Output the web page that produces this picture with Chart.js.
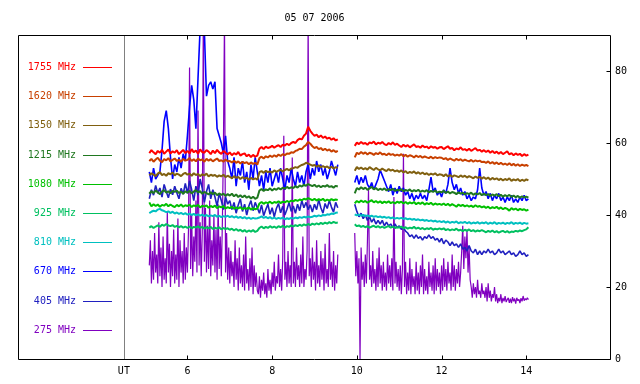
<!DOCTYPE html>
<html><head><meta charset="utf-8">
<script src="https://cdn.jsdelivr.net/npm/chart.js@4"></script>
<style>html,body{margin:0;padding:0;background:#fff;}canvas{display:block;}</style>
</head><body>
<canvas id="c" width="640" height="384"></canvas>
<script>
const chartTitle = '05 07 2006';
const utHour = 4.5;
const xTickValues = [4.5, 6, 8, 10, 12, 14];
const xTickLabels = ['UT', '6', '8', '10', '12', '14'];
const yTickValues = [0, 20, 40, 60, 80];

const hours = [
5.10,5.15,5.20,5.25,5.30,5.35,5.40,5.45,5.50,5.55,5.60,5.65,5.70,5.75,5.80,5.85,5.90,5.95,
6.00,6.05,6.10,6.15,6.20,6.25,6.30,6.35,6.40,6.45,6.50,6.55,6.60,6.65,6.70,6.75,6.80,6.85,6.90,6.95,
7.00,7.05,7.10,7.15,7.20,7.25,7.30,7.35,7.40,7.45,7.50,7.55,7.60,7.65,
7.70,7.75,7.80,7.85,7.90,7.95,8.00,8.05,8.10,8.15,8.20,8.25,8.30,8.35,8.40,8.45,
8.50,8.55,8.60,8.65,8.70,8.75,8.80,8.85,8.90,
8.95,9.00,9.05,9.10,9.15,9.20,9.25,9.30,9.35,9.40,9.45,9.50,9.55,
9.75,
9.95,10.00,10.05,10.10,10.15,10.20,10.25,10.30,10.35,10.40,10.45,10.50,10.55,10.60,10.65,10.70,10.75,10.80,10.85,10.90,10.95,
11.00,11.05,11.10,11.15,11.20,11.25,11.30,11.35,11.40,11.45,11.50,11.55,11.60,11.65,11.70,11.75,11.80,11.85,11.90,11.95,
12.00,12.05,12.10,12.15,12.20,12.25,12.30,12.35,12.40,12.45,12.50,12.55,12.60,12.65,12.70,12.75,12.80,12.85,12.90,12.95,
13.00,13.05,13.10,13.15,13.20,13.25,13.30,13.35,13.40,13.45,13.50,13.55,13.60,13.65,13.70,13.75,13.80,13.85,13.90,13.95,14.00,14.05
];

// finer time grid for the noisy 275 MHz record
const hours275 = [
5.100,5.125,5.150,5.175,5.200,5.225,5.250,5.275,5.300,5.325,5.350,5.375,5.400,5.425,5.450,5.475,5.500,5.525,5.550,5.575,5.600,5.625,5.650,5.675,5.700,5.725,5.750,5.775,5.800,5.825,5.850,5.875,5.900,5.925,5.950,5.975,
6.000,6.025,6.050,6.075,6.100,6.125,6.150,6.175,6.200,6.225,6.250,6.275,6.300,6.325,6.350,6.375,6.400,6.425,6.450,6.475,6.500,6.525,6.550,6.575,6.600,6.625,6.650,6.675,6.700,6.725,6.750,6.775,6.800,6.825,6.850,6.875,6.900,6.925,6.950,6.975,
7.000,7.025,7.050,7.075,7.100,7.125,7.150,7.175,7.200,7.225,7.250,7.275,7.300,7.325,7.350,7.375,7.400,7.425,7.450,7.475,7.500,7.525,7.550,7.575,7.600,7.625,7.650,
7.675,7.700,7.725,7.750,7.775,7.800,7.825,7.850,7.875,7.900,7.925,7.950,7.975,8.000,8.025,8.050,8.075,8.100,8.125,8.150,8.175,8.200,8.225,8.250,8.275,8.300,8.325,8.350,8.375,8.400,8.425,8.450,
8.475,8.500,8.525,8.550,8.575,8.600,8.625,8.650,8.675,8.700,8.725,8.750,8.775,8.800,8.825,8.850,8.875,8.900,
8.925,8.950,8.975,9.000,9.025,9.050,9.075,9.100,9.125,9.150,9.175,9.200,9.225,9.250,9.275,9.300,9.325,9.350,9.375,9.400,9.425,9.450,9.475,9.500,9.525,9.550,
9.750,
9.950,9.975,10.000,10.025,10.050,10.075,10.100,10.125,10.150,10.175,10.200,10.225,10.250,10.275,10.300,10.325,10.350,10.375,10.400,10.425,10.450,10.475,10.500,10.525,10.550,10.575,10.600,10.625,10.650,10.675,10.700,10.725,10.750,10.775,10.800,10.825,10.850,10.875,10.900,10.925,10.950,10.975,
11.000,11.025,11.050,11.075,11.100,11.125,11.150,11.175,11.200,11.225,11.250,11.275,11.300,11.325,11.350,11.375,11.400,11.425,11.450,11.475,11.500,11.525,11.550,11.575,11.600,11.625,11.650,11.675,11.700,11.725,11.750,11.775,11.800,11.825,11.850,11.875,11.900,11.925,11.950,11.975,
12.000,12.025,12.050,12.075,12.100,12.125,12.150,12.175,12.200,12.225,12.250,12.275,12.300,12.325,12.350,12.375,12.400,12.425,12.450,12.475,12.500,12.525,12.550,12.575,12.600,12.625,12.650,12.675,12.700,12.725,12.750,12.775,12.800,12.825,12.850,12.875,12.900,12.925,12.950,12.975,
13.000,13.025,13.050,13.075,13.100,13.125,13.150,13.175,13.200,13.225,13.250,13.275,13.300,13.325,13.350,13.375,13.400,13.425,13.450,13.475,13.500,13.525,13.550,13.575,13.600,13.625,13.650,13.675,13.700,13.725,13.750,13.775,13.800,13.825,13.850,13.875,13.900,13.925,13.950,13.975,14.000,14.025,14.050
];

const seriesNames = ['1755 MHz','1620 MHz','1350 MHz','1215 MHz','1080 MHz','925 MHz','810 MHz','670 MHz','405 MHz','275 MHz'];
const seriesColors = ['#ff0000','#c84000','#806010','#207820','#00c000','#00c060','#00c0c0','#0000ff','#2020c0','#8000c0'];
const seriesWidths = [2, 2, 2, 2, 2, 2, 2, 1.6, 1.6, 1.2];

const f1755 = [
57.2,58.0,57.4,56.9,57.8,57.3,58.1,57.0,57.6,58.2,57.1,57.7,57.3,58.0,56.9,57.5,58.1,57.2,
57.8,57.1,58.3,57.4,57.9,57.0,58.2,57.5,57.3,58.0,57.6,56.9,57.9,57.2,58.1,57.4,57.0,57.8,57.3,56.8,
57.4,56.6,57.2,56.8,57.5,56.5,56.9,57.1,56.3,56.8,56.1,56.7,56.2,56.5,
58.4,58.9,58.3,59.0,58.6,58.8,59.2,58.7,59.1,59.4,58.9,59.5,59.3,59.8,59.4,60.0,
60.3,60.0,60.8,61.2,61.0,62.0,62.6,64.5,63.4,
62.6,62.0,62.3,61.6,62.1,61.4,61.8,61.2,61.5,60.9,61.3,60.7,61.0,
null,
59.2,60.1,59.7,60.3,59.8,60.0,59.5,60.2,59.9,60.4,59.6,60.1,59.8,60.3,59.7,59.4,60.0,59.6,60.2,59.5,59.8,
59.3,58.9,59.5,59.0,59.4,58.8,59.2,59.6,58.9,59.1,58.7,59.3,58.8,59.0,58.5,59.1,58.7,58.9,58.4,58.8,
58.9,58.3,58.7,59.1,58.4,58.6,58.0,58.5,58.2,58.8,58.1,58.3,57.9,58.4,57.8,58.2,58.6,57.9,58.1,57.6,
58.0,57.5,57.9,57.3,57.8,57.2,57.6,57.0,57.5,56.9,57.3,57.7,56.8,57.2,56.6,57.1,56.7,57.0,56.4,56.9,56.5,56.8
];
const f1620 = [
55.0,55.6,54.8,55.4,55.9,55.1,54.7,55.5,55.2,55.8,54.9,55.3,55.7,55.0,55.4,54.8,55.6,55.1,
55.3,55.8,55.0,55.5,54.9,55.7,55.2,55.4,54.8,55.6,55.1,55.5,54.9,55.3,55.7,55.0,55.2,54.8,55.4,54.9,
55.0,54.6,55.1,54.5,54.9,54.3,54.8,54.4,54.7,54.1,54.6,54.2,54.5,54.0,
55.8,56.2,55.7,56.3,56.0,56.5,56.1,56.6,56.2,56.8,56.4,56.9,56.6,57.1,57.0,57.4,
57.3,57.8,58.0,58.4,58.3,59.0,59.4,60.3,59.8,
59.1,58.6,58.9,58.3,58.6,58.0,58.4,57.9,58.2,57.6,58.0,57.5,57.8,
null,
56.0,57.3,56.9,57.5,57.0,57.4,56.8,57.3,57.1,56.7,57.2,56.9,57.4,56.8,57.0,56.6,57.1,56.7,56.9,56.5,56.8,
56.5,56.9,56.3,56.7,56.2,56.6,56.4,56.0,56.5,56.1,56.4,55.9,56.3,56.0,55.8,56.2,55.7,56.1,55.8,56.0,
55.9,55.5,55.8,55.3,55.7,55.4,55.1,55.6,55.2,55.5,55.0,55.4,55.1,54.9,55.3,54.8,55.2,54.9,55.1,54.7,
54.8,54.5,54.9,54.3,54.7,54.2,54.6,54.1,54.5,54.0,54.3,53.9,54.4,53.8,54.2,53.7,54.1,53.6,54.0,53.7,53.9,53.6
];
const f1350 = [
51.0,51.6,51.2,50.8,51.5,51.9,51.1,51.4,50.9,51.6,51.3,51.8,51.0,51.5,51.2,50.8,51.4,51.7,
51.2,51.5,50.9,51.6,51.1,51.4,50.8,51.3,51.0,51.5,50.7,51.2,50.9,51.1,50.6,51.0,50.7,51.2,50.5,50.9,
50.6,50.2,50.8,50.3,50.6,50.0,50.5,50.1,50.4,49.8,50.3,49.9,50.2,49.8,
51.9,52.2,51.7,52.3,51.9,52.1,51.8,52.4,52.0,52.3,52.6,52.1,52.5,52.8,52.4,52.9,
53.0,53.3,53.1,53.6,53.9,54.1,54.5,54.3,54.0,
53.7,53.9,53.4,53.8,53.3,53.6,53.2,53.5,53.0,53.4,52.9,53.3,53.1,
null,
52.3,53.3,52.8,53.2,52.7,53.0,52.6,53.3,52.9,52.5,53.1,52.7,52.4,52.9,52.5,52.2,52.8,52.3,52.6,52.1,52.4,
52.0,52.4,51.8,52.2,51.6,52.0,51.7,52.1,51.5,51.9,51.4,51.8,51.3,51.6,51.1,51.5,51.2,51.6,51.0,51.3,
51.2,50.8,51.3,50.7,51.1,50.6,51.0,50.8,50.5,51.0,50.6,50.9,50.4,50.8,50.5,50.2,50.7,50.3,50.6,50.1,
50.5,50.0,50.4,49.8,50.3,49.9,50.2,49.7,50.1,49.6,50.0,49.7,50.2,49.5,49.9,49.6,50.0,49.4,49.8,49.5,49.9,49.6
];
const f1215 = [
45.9,46.6,46.1,46.8,46.3,45.8,46.5,46.9,46.2,46.6,46.0,46.7,46.4,46.8,46.1,46.5,45.9,46.6,
46.2,46.7,46.0,46.5,46.9,46.3,46.6,45.9,46.4,46.1,45.7,46.3,45.8,46.2,45.5,46.0,45.6,45.9,45.3,45.8,
45.4,45.9,45.2,45.7,45.0,45.5,44.9,45.4,44.8,45.2,44.6,45.1,44.5,44.8,
46.8,47.2,46.7,47.1,46.9,47.4,46.8,47.3,47.0,47.5,47.1,47.6,47.3,47.8,47.4,47.7,
47.5,48.0,47.6,48.2,47.9,48.4,48.1,48.6,48.3,
48.0,48.4,47.8,48.2,47.7,48.1,47.9,48.3,47.8,48.0,47.6,48.1,47.9,
null,
46.0,47.5,47.1,47.7,47.2,47.6,47.0,47.4,47.8,47.1,47.5,46.9,47.3,47.0,47.4,46.8,47.2,46.9,47.3,46.7,47.0,
46.8,47.2,46.6,47.0,46.7,47.1,46.5,46.9,46.6,47.0,46.4,46.8,46.5,46.9,46.3,46.7,46.4,46.8,46.2,46.5,
46.3,46.7,46.1,46.5,46.0,46.4,46.2,45.8,46.3,45.9,46.2,45.7,46.1,45.8,46.2,45.6,46.0,45.7,46.1,45.5,
45.9,45.5,45.8,45.3,45.7,45.4,45.8,45.2,45.6,45.1,45.5,45.2,45.6,45.0,45.4,44.9,45.3,44.8,45.2,44.9,45.1,44.8
];
const f1080 = [
43.5,42.4,43.0,42.5,42.9,42.3,42.8,42.6,43.1,42.4,42.9,42.5,42.2,42.8,42.4,42.9,42.3,42.7,
42.5,42.9,42.2,42.7,42.4,42.8,42.1,42.6,42.3,42.7,42.0,42.5,42.2,42.6,41.9,42.4,42.1,42.5,41.8,42.2,
41.9,42.3,41.7,42.1,41.8,42.2,41.6,42.0,41.7,42.1,41.5,41.9,41.6,41.8,
43.2,43.6,43.1,43.5,43.3,43.7,43.2,43.6,43.4,43.8,43.3,43.7,43.5,43.9,43.6,44.0,
43.8,44.2,43.9,44.3,44.1,44.5,44.3,44.7,44.4,
44.1,44.5,44.0,44.4,44.1,44.5,43.9,44.3,44.0,44.4,44.1,44.3,44.2,
null,
43.2,43.9,43.5,44.0,43.6,43.9,43.4,43.8,44.1,43.5,43.9,43.4,43.8,43.3,43.7,43.4,43.8,43.3,43.6,43.2,43.7,
43.4,43.7,43.2,43.6,43.1,43.5,43.2,43.6,43.0,43.4,43.1,43.5,42.9,43.3,43.0,43.4,42.8,43.2,42.9,43.1,
42.8,43.2,42.7,43.1,42.6,43.0,42.7,42.3,42.9,42.5,42.8,42.4,42.7,42.3,42.6,42.2,42.7,42.3,42.5,42.1,
42.4,42.0,42.3,41.8,42.2,41.9,42.3,41.7,42.1,41.6,42.0,41.7,41.2,41.9,41.5,41.8,41.3,41.7,41.4,41.6,41.2,41.5
];
const f925 = [
36.5,36.9,36.4,36.8,37.1,36.7,37.3,37.0,37.5,37.1,36.9,37.2,36.7,37.0,36.6,36.9,36.5,36.8,
36.4,36.8,36.3,36.7,36.5,36.9,36.4,36.7,36.2,36.6,36.3,36.7,36.1,36.5,36.2,36.6,36.0,36.4,36.1,36.3,
35.9,36.2,35.7,36.1,35.6,35.9,35.4,35.8,35.3,35.7,35.4,35.8,35.3,35.6,
36.4,36.8,36.3,36.7,36.4,36.9,36.5,36.8,36.4,36.9,36.6,37.0,36.5,36.9,36.7,37.1,
36.8,37.2,36.9,37.3,37.0,37.4,37.1,37.5,37.2,
37.6,37.3,37.7,37.4,37.8,37.5,37.9,37.6,38.0,37.7,38.1,37.8,37.9,
null,
37.4,36.9,37.1,36.7,37.0,36.6,36.9,36.5,36.8,37.0,36.6,36.9,36.5,36.8,36.4,36.7,36.9,36.5,36.8,36.4,36.6,
36.5,36.8,36.3,36.6,36.2,36.5,36.3,36.7,36.2,36.5,36.1,36.4,36.0,36.3,36.1,36.4,35.9,36.2,36.0,36.3,
36.0,36.3,35.8,36.1,35.7,36.0,35.8,36.2,35.7,35.9,35.5,35.9,35.6,36.0,35.5,35.8,35.4,35.7,35.5,35.8,
35.5,35.2,35.6,35.3,35.7,35.2,35.5,35.1,35.4,35.6,35.2,35.5,35.1,35.4,35.3,35.6,35.4,35.7,35.5,35.8,36.0,36.6
];
const f810 = [
40.5,40.9,41.2,41.0,41.5,41.7,41.3,41.1,40.8,41.0,40.6,40.9,40.4,40.7,40.3,40.6,40.2,40.5,
40.1,40.4,40.0,40.3,39.9,40.2,39.8,40.1,39.7,40.0,39.6,39.9,39.7,40.0,39.5,39.8,39.4,39.7,39.5,39.8,
39.4,39.7,39.3,39.6,39.2,39.5,39.1,39.4,39.0,39.3,38.9,39.2,39.0,39.1,
39.3,39.6,39.2,39.5,39.1,39.4,39.0,39.3,38.9,39.2,39.0,39.3,38.8,39.1,38.9,39.2,
39.0,39.3,39.1,39.4,39.2,39.5,39.3,39.6,39.4,
39.5,39.8,39.6,39.9,39.7,40.0,39.9,40.2,40.1,40.4,40.3,40.6,40.7,
null,
40.2,39.9,40.1,39.8,40.0,39.7,39.9,39.6,39.8,39.5,39.7,39.4,39.6,39.3,39.5,39.2,39.4,39.1,39.3,39.0,39.2,
39.0,39.2,38.9,39.1,38.8,39.0,38.7,38.9,38.6,38.8,38.5,38.7,38.4,38.6,38.3,38.5,38.2,38.4,38.1,38.3,
38.0,38.3,37.9,38.2,37.8,38.1,37.9,38.2,37.7,38.0,37.8,38.1,37.7,38.0,37.6,37.9,37.7,38.0,37.6,37.9,
37.7,38.0,37.5,37.9,37.6,38.0,37.5,37.8,37.6,37.9,37.5,37.8,37.6,38.0,37.5,37.8,37.6,37.9,37.5,37.8,37.6,37.7
];
const f670 = [
52,49,53,50,51,52,58,66,69,64,56,50,54,52,56,53,57,55,
62,70,76,72,64,78,92,95,91,73,76,77,75,77,64,62,60,57,62,55,
53,50,56,48,53,51,55,49,52,47,54,50,56,52,
48,51,47,52,49,53,48,50,52,49,53,50,47,51,49,53,
50,48,52,49,51,48,52,54,50,
53,51,55,52,54,51,53,50,52,55,53,51,54,
null,
49,51,48.5,50.5,49,51,48.5,47.5,49,47,48.5,50,52.5,51,49.5,48,46.5,48.5,45.5,47.5,46,
48,46.5,47.5,45.5,46.5,44.5,46,44,45.5,44.5,46,44.5,45.5,44,47,50.5,46.5,47.5,45.5,46.5,
45,47,46,48.5,53,49,47,48.5,46,47.5,45.5,46.5,44.5,45.5,44,45,44.5,47,53,47.5,
45.5,46.5,44.5,46,44,45.5,44.5,46,44,45,43.5,45,44,45.5,43.5,44.5,43.5,45,44,45.5,44,44.5
];
const f405 = [
44.5,47.0,45.5,48.2,46.0,47.5,45.0,48.5,46.5,44.8,47.2,45.6,48.0,46.2,44.5,47.4,45.8,48.8,
46.0,49.5,47.0,44.0,48.0,45.5,50.0,47.5,43.5,46.5,48.5,44.5,47.0,45.0,42.5,46.0,44.0,41.5,45.0,43.0,
44.0,41.5,43.5,40.5,42.8,44.5,41.0,43.0,40.0,42.5,44.0,41.2,43.5,42.0,
40.5,42.8,39.8,41.5,43.0,40.2,42.0,39.5,41.8,43.2,40.6,42.4,40.0,41.6,43.5,41.0,
42.5,40.5,43.0,41.2,44.0,42.0,43.5,41.5,42.8,
40.8,43.0,41.5,44.2,42.0,40.5,43.2,41.8,44.0,42.2,40.8,43.5,42.0,
null,
43,41,39.5,40.5,39,40,38.5,39.5,38,39,37.5,38.5,37.5,38.5,37,38,37,37.5,36.5,37.5,36.5,
37,36,36.5,35.5,35,34,34.5,33.5,34.5,33.5,34,33,34,33.5,34.5,33.5,34,33,33.5,32.5,
33.5,32,33,32.5,31.5,32.5,31.5,32,31,32,30.5,31,30,31.5,30,29.5,30.5,29,30,29,
30,29.5,30.5,29.5,30,29,29.5,30.5,29.5,30,29,29.5,30,29,29.5,28.5,29,30,29,29.5,28.5,29
];
const f275 = [
26,33,21,30,22,35,24,29,21,38,23,31,20,34,22,28,21,41,24,32,20,30,23,36,21,29,22,39,20,33,24,30,21,35,22,31,
24,36,81,25,40,23,34,27,44,24,69,26,38,23,35,95,27,42,24,37,25,44,23,33,26,40,24,36,22,43,25,34,23,38,59,95,24,35,22,31,
21,30,23,27,20,33,22,28,19,31,21,26,20,29,19,34,21,25,19,28,20,31,18,26,20,24,19,
18,23,17,22,19,24,18,21,17,25,19,22,18,24,20,27,19,23,21,29,20,25,19,28,62,22,27,20,30,21,26,20,
56,21,27,20,31,22,26,20,29,21,34,20,25,22,30,95,23,28,
20,31,22,27,19,33,21,26,20,30,22,28,19,32,21,25,20,35,22,27,20,30,19,26,21,29,
null,
35,23,30,21,28,0,31,22,27,20,29,21,33,47,22,26,20,30,21,25,19,28,20,31,21,26,19,27,20,24,19,29,21,26,20,28,19,45,21,27,20,25,
19,26,18,25,57,20,27,18,24,19,28,18,25,20,23,18,27,19,24,18,26,20,29,18,25,19,23,18,27,20,24,19,26,18,28,19,25,20,24,18,
26,19,28,20,25,19,27,21,24,19,29,20,26,19,25,21,27,20,24,30,37,25,34,28,36,24,31,22,20,17,21,18,20,17,22,18,19,17,21,18,
19,17,20,16,21,17,19,16,18,17,20,16,18,15.5,17,16,18,15.5,17,16,17.5,15.8,16.5,17,15.6,16.8,15.5,17.2,16,16.8,15.4,17,16.2,16.6,15.5,16.9,16,17.5,16.2,16.8,16.4,17,16.5
];
const seriesValues = [f1755, f1620, f1350, f1215, f1080, f925, f810, f670, f405, f275];
const seriesHours = [hours, hours, hours, hours, hours, hours, hours, hours, hours, hours275];

const FONT_FAMILY = '"DejaVu Sans Mono", monospace';

const framePlugin = {
  id: 'framePlugin',
  beforeDatasetsDraw(chart) {
    const { ctx, chartArea: a, scales } = chart;
    ctx.save();
    ctx.strokeStyle = '#808080';
    ctx.lineWidth = 1;
    const ux = Math.round(scales.x.getPixelForValue(utHour)) + 0.5;
    ctx.beginPath(); ctx.moveTo(ux, a.top); ctx.lineTo(ux, a.bottom); ctx.stroke();
    ctx.restore();
  },
  afterDraw(chart) {
    const { ctx, chartArea: a, scales } = chart;
    ctx.save();
    ctx.strokeStyle = '#000';
    ctx.lineWidth = 1;
    const L = a.left + 0.5, R = a.right - 0.5, T = a.top + 0.5, B = a.bottom + 0.5;
    ctx.beginPath();
    ctx.moveTo(L, T); ctx.lineTo(R, T); ctx.lineTo(R, B); ctx.lineTo(L, B); ctx.closePath();
    ctx.stroke();
    ctx.beginPath();
    xTickValues.forEach(v => {
      if (v === utHour) return;
      const px = Math.round(scales.x.getPixelForValue(v)) + 0.5;
      ctx.moveTo(px, B); ctx.lineTo(px, B - 4);
      ctx.moveTo(px, T); ctx.lineTo(px, T + 4);
    });
    yTickValues.forEach(v => {
      const py = Math.round(scales.y.getPixelForValue(v)) + 0.5;
      ctx.moveTo(R, py); ctx.lineTo(R - 4, py);
    });
    ctx.stroke();
    ctx.fillStyle = '#000';
    ctx.font = '10px ' + FONT_FAMILY;
    ctx.textAlign = 'center';
    ctx.textBaseline = 'middle';
    ctx.fillText(chartTitle, (a.left + a.right) / 2, 18);
    seriesNames.forEach((name, k) => {
      const y = Math.round(a.top + 32 + k * 29.2) + 0.5;
      ctx.fillStyle = seriesColors[k];
      ctx.textAlign = 'right';
      ctx.fillText(name, a.left + 58, y);
      ctx.strokeStyle = seriesColors[k];
      ctx.lineWidth = 1;
      ctx.beginPath(); ctx.moveTo(a.left + 65, y); ctx.lineTo(a.left + 94, y); ctx.stroke();
    });
    ctx.restore();
  }
};

new Chart(document.getElementById('c'), {
  type: 'line',
  data: {
    datasets: seriesValues.map((vals, k) => ({
      label: seriesNames[k],
      data: seriesHours[k].map((h, i) => ({ x: h, y: vals[i] })),
      borderColor: seriesColors[k],
      backgroundColor: seriesColors[k],
      borderWidth: seriesWidths[k],
      borderJoinStyle: 'bevel',
      pointRadius: 0,
      tension: 0,
      spanGaps: false,
      order: k
    }))
  },
  options: {
    responsive: false,
    animation: false,
    devicePixelRatio: 1,
    layout: { padding: { left: 18, top: 35, right: 0, bottom: 0 } },
    plugins: { legend: { display: false }, tooltip: { enabled: false }, title: { display: false } },
    scales: {
      x: {
        type: 'linear', min: 2, max: 16,
        grid: { display: false, drawTicks: false },
        border: { display: false },
        afterBuildTicks: s => { s.ticks = xTickValues.map(v => ({ value: v })); },
        afterFit: s => { s.height = 25; },
        ticks: {
          autoSkip: false, maxRotation: 0, padding: 6, color: '#000',
          font: { family: FONT_FAMILY, size: 10 },
          callback: v => { const i = xTickValues.indexOf(v); return i >= 0 ? xTickLabels[i] : ''; }
        }
      },
      y: {
        position: 'right', min: 0, max: 90,
        grid: { display: false, drawTicks: false },
        border: { display: false },
        afterBuildTicks: s => { s.ticks = yTickValues.map(v => ({ value: v })); },
        afterFit: s => { s.width = 29; },
        ticks: {
          padding: 4, color: '#000',
          font: { family: FONT_FAMILY, size: 10 },
          callback: v => String(v)
        }
      }
    }
  },
  plugins: [framePlugin]
});
</script>
</body></html>
